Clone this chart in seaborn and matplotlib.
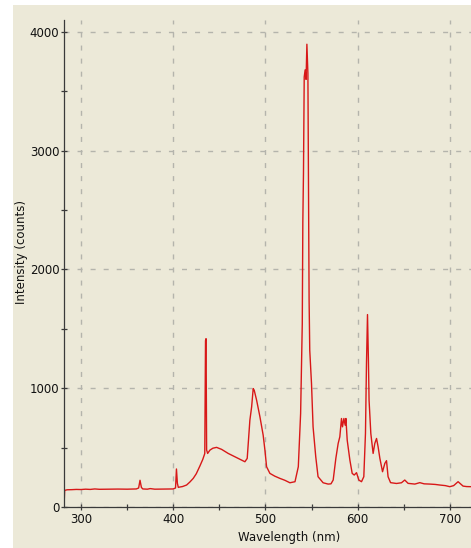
import matplotlib
matplotlib.use("Agg")
import matplotlib.pyplot as plt
from matplotlib.patches import Rectangle
from matplotlib.ticker import MultipleLocator
import seaborn as sns
import pandas as pd

# Data
wavelength = [281.6, 282.3, 285, 290, 295, 300, 305, 310, 315, 320, 330, 340, 350, 360,
              362.5, 364, 365.5, 367, 372, 375, 380, 390, 400, 402.5, 403.5, 404.5, 405.5,
              407, 410, 414.5, 418, 421.7, 425, 428.9, 432, 434.2, 435, 435.6, 436.2, 437.3,
              439.8, 443, 447, 452.5, 459.6, 466.9, 474.1, 477.7, 480.2, 481.3, 483.1, 485,
              486.7, 487.8, 490.4, 494, 497.5, 499.4, 501.2, 504.8, 510, 515.6, 521, 526.5,
              532, 535.6, 538.1, 539.9, 540.5, 541.2, 542, 543, 544, 544.9, 546, 547.3, 548,
              549.9, 551.6, 554.5, 557, 562.5, 567.9, 571, 573.4, 576.3, 578.8, 580.6, 582.4,
              583.5, 585, 586.4, 587.2, 588.6, 591.5, 594, 596.2, 598.7, 601.2, 604.1, 606.6,
              608.4, 609.5, 610.6, 611.6, 612.3, 614.2, 616.7, 618.5, 620.4, 622.1, 624,
              626.9, 629.4, 631.2, 632.9, 635.6, 642, 647.4, 651, 654.6, 661.9, 667.3, 672,
              678.1, 684, 689, 695, 699.8, 704, 708.8, 714.2, 718, 722.5]
intensity = [0, 140, 145, 146, 148, 147, 150, 148, 152, 149, 150, 151, 150, 152,
             160, 225, 165, 152, 150, 155, 150, 151, 152, 160, 320, 200, 165,
             168, 172, 185, 210, 241, 280, 345, 400, 450, 1400, 1417, 480, 451,
             479, 495, 502, 485, 451, 423, 395, 381, 409, 535, 731, 843,
             997, 983, 899, 759, 605, 479, 339, 283, 260, 241, 225, 204,
             213, 339, 787, 1544, 2400, 2810, 3620, 3680, 3600, 3896, 3650, 1739, 1319,
             1039, 675, 423, 255, 204, 193, 195, 227, 410, 535, 591, 745,
             675, 745, 689, 745, 563, 395, 283, 269, 289, 227, 213, 255,
             619, 1208, 1620, 1235, 899, 619, 451, 535, 577, 507, 410,
             297, 367, 390, 255, 205, 198, 204, 227, 199, 193, 205, 195,
             193, 190, 185, 180, 171, 180, 213, 176, 172, 171]

x_ticks = [300, 400, 500, 600, 700]
y_ticks = [0, 1000, 2000, 3000, 4000]

df = pd.DataFrame({"Wavelength (nm)": wavelength, "Intensity (counts)": intensity})

sns.set_style("white")
bg = "#ECE9D8"
plt.rcParams["font.family"] = ["DejaVu Sans"]

fig = plt.figure(figsize=(4.71, 5.48), dpi=100, facecolor=bg)
W, H = 471, 548
ax = fig.add_axes([64 / W, 1 - 507 / H, (W - 64) / W, (507 - 20) / H])
ax.set_facecolor(bg)

sns.lineplot(data=df, x="Wavelength (nm)", y="Intensity (counts)", ax=ax,
             sort=False, color="#D81818", linewidth=1.0, estimator=None)

ax.set_xlim(281.6, 722.8)
ax.set_ylim(0, 4100)
ax.set_xticks(x_ticks)
ax.set_yticks(y_ticks)
ax.set_xticklabels([str(v) for v in x_ticks])
ax.set_yticklabels([str(v) for v in y_ticks])
ax.xaxis.set_minor_locator(MultipleLocator(50))
ax.yaxis.set_minor_locator(MultipleLocator(500))

for s in ["top", "right"]:
    ax.spines[s].set_visible(False)
for s in ["left", "bottom"]:
    ax.spines[s].set_color("#3a3a3a")
    ax.spines[s].set_linewidth(0.9)

ax.tick_params(which="both", direction="inout", length=4.5, width=0.9,
               color="#3a3a3a", labelsize=8.5, labelcolor="#111111")
ax.tick_params(axis="y", which="both", pad=1, left=True)
ax.tick_params(axis="x", which="both", pad=2, bottom=True)

ax.grid(True, which="major", color="#B4B4AC", linestyle=(0, (3.6, 5.8)), linewidth=1.0)
ax.set_axisbelow(True)

ax.set_xlabel("Wavelength (nm)", fontsize=8.5, color="#111111")
ax.set_ylabel("Intensity (counts)", fontsize=8.5, color="#111111")
ax.xaxis.set_label_coords((289 - 64) / (W - 64), -(531 - 507) / (507 - 20), transform=ax.transAxes)
ax.yaxis.set_label_coords(-(64 - 28) / (W - 64), (507 - 252) / (507 - 20), transform=ax.transAxes)

# white border strips at left and top as in the reference
fig.patches.append(Rectangle((0, 0), 13 / W, 1, transform=fig.transFigure,
                             facecolor="white", edgecolor="none", zorder=-1))
fig.patches.append(Rectangle((0, 1 - 5 / H), 1, 5 / H, transform=fig.transFigure,
                             facecolor="white", edgecolor="none", zorder=-1))

fig.savefig("out.png", dpi=100, facecolor=bg)
